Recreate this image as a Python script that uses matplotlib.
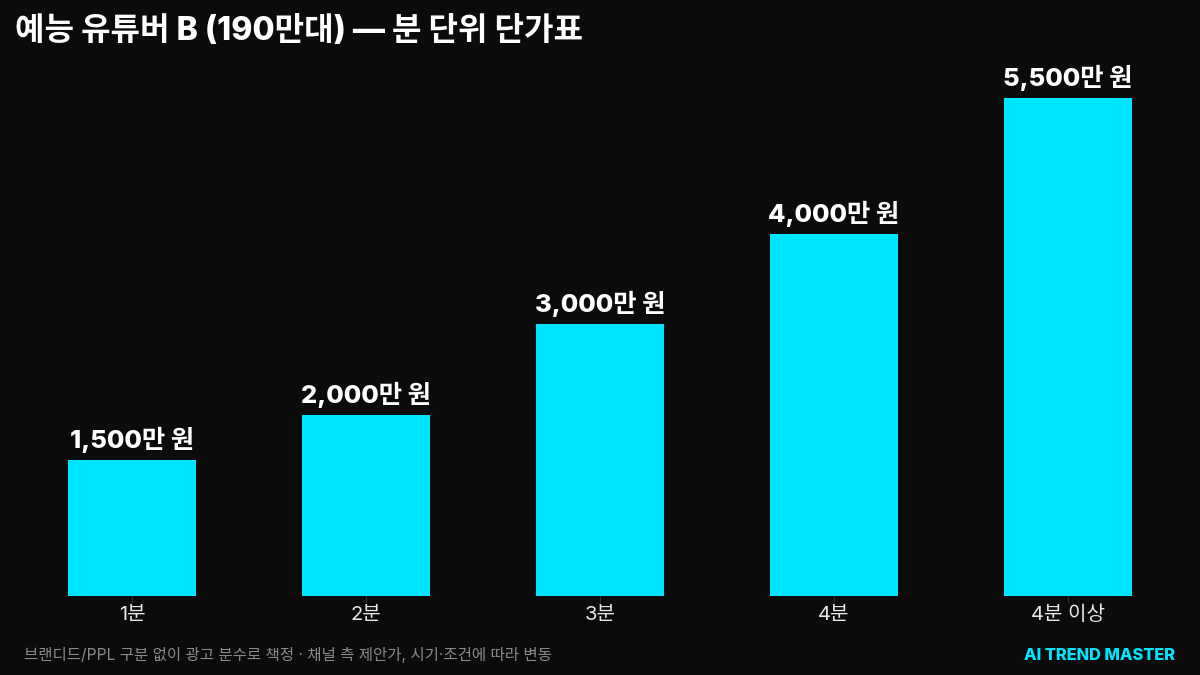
import matplotlib
matplotlib.use("Agg")
import matplotlib.pyplot as plt

FAM = ['Inter', 'Noto Sans CJK KR', 'DejaVu Sans']
plt.rcParams['font.family'] = FAM

categories = ["1분", "2분", "3분", "4분", "4분 이상"]
values = [1500, 2000, 3000, 4000, 5500]
value_labels = ["1,500만 원", "2,000만 원", "3,000만 원", "4,000만 원", "5,500만 원"]
title = "예능 유튜버 B (190만대) — 분 단위 단가표"
footnote = "브랜디드/PPL 구분 없이 광고 분수로 책정 · 채널 측 제안가, 시기·조건에 따라 변동"
brand = "AI TREND MASTER"

BG = "#0b0b0b"
BAR = "#00e5ff"

fig = plt.figure(figsize=(12, 6.75), dpi=100, facecolor=BG)
ax = fig.add_axes([15/1200, 1 - 596/675, 1170/1200, (596 - 48)/675])
ax.set_facecolor(BG)

x = list(range(len(categories)))
bars = ax.bar(x, values, width=0.55, color=BAR, zorder=2)
ax.set_xlim(-0.5, len(categories) - 0.5)
ax.set_ylim(0, 5500 * 548 / 498)

for xi, v, lab in zip(x, values, value_labels):
    ax.annotate(lab, (xi, v), xytext=(0, 5), textcoords="offset points",
                ha="center", va="bottom", color="white", fontsize=18.3,
                fontweight="heavy")

ax.set_xticks(x)
ax.set_xticklabels(categories, color="#e8e8e8", fontsize=14.5)
ax.tick_params(axis="x", length=4, color="#333333", pad=3)
ax.set_yticks([])
for s in ax.spines.values():
    s.set_visible(False)

fig.text(15/1200, 1 - 31/675, title, color="white", fontsize=23.1,
         fontweight="heavy", ha="left", va="center")
fig.text(24/1200, 1 - 655/675, footnote, color="#8a8a8a", fontsize=11.2,
         ha="left", va="center")
fig.text(1175/1200, 1 - 656/675, brand, color=BAR, fontsize=11.8,
         fontweight="heavy", ha="right", va="center")

fig.savefig("out.png", facecolor=BG)
